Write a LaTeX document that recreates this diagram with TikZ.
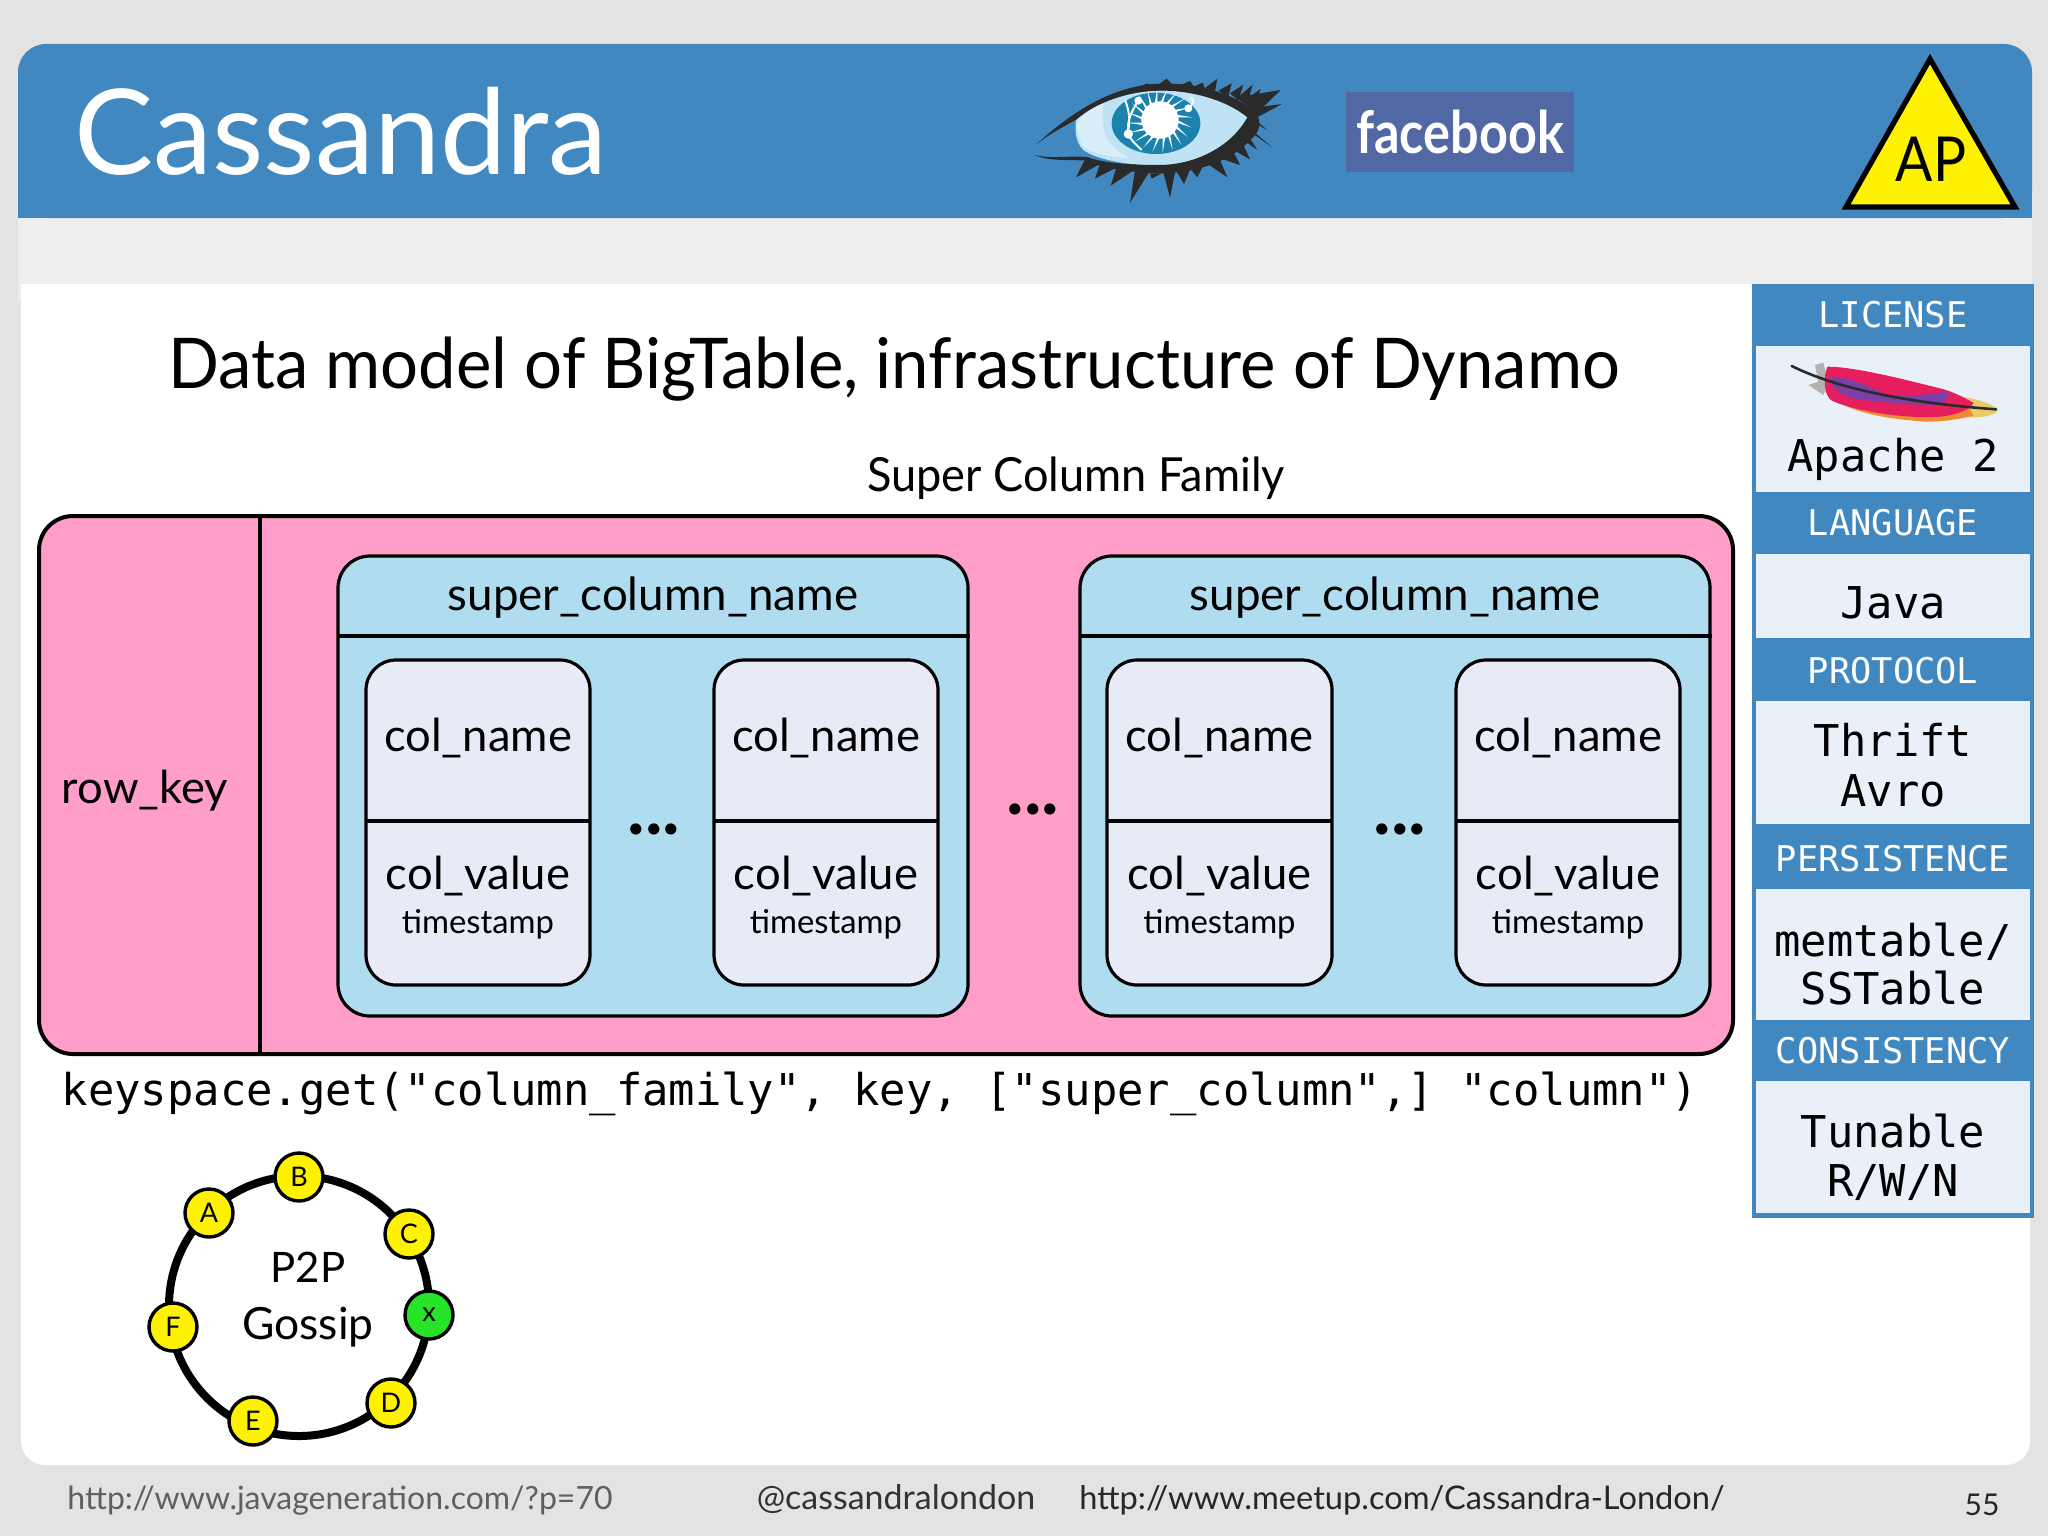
\documentclass[tikz,border=0pt]{standalone}
\usepackage{fontspec}
\usepackage{graphicx}
\setmainfont{Lato}
\setmonofont{DejaVu Sans Mono}
\newcommand{\fsz}[1]{\fontsize{#1}{#1}\selectfont}
\definecolor{hdrblue}{HTML}{4088BF}
\definecolor{bggray}{HTML}{E3E3E3}
\definecolor{band}{HTML}{EEEEEF}
\definecolor{sidefill}{HTML}{E9F0F8}
\definecolor{pinkfill}{HTML}{FF9EC8}
\definecolor{scfill}{HTML}{B0DCF0}
\definecolor{colfill}{HTML}{E8EAF6}
\definecolor{irisblue}{HTML}{1B82AD}
\definecolor{eyelight}{HTML}{BFE3F5}
\definecolor{eyepale}{HTML}{D8EFFA}
\definecolor{lash}{HTML}{2A2A2A}
\definecolor{fbblue}{HTML}{5268A5}
\definecolor{foot}{HTML}{5F5F5F}
\definecolor{nodegreen}{HTML}{28E428}
\definecolor{fred}{HTML}{E61E5E}
\definecolor{fpurple}{HTML}{7B3FA8}
\definecolor{forange}{HTML}{F08A30}
\definecolor{fyellow}{HTML}{E8CC66}
\tikzset{
  base/.style={anchor=base,inner sep=0pt,outer sep=0pt,align=center},
  sidehead/.style={base,text=white,font=\ttfamily\fsz{17.7}},
  sidetext/.style={base,text=black,font=\ttfamily\fsz{21.9}},
  colname/.style={base,font=\fsz{22.7}},
  smalltxt/.style={base,font=\fsz{16.4}},
  dotsnode/.style={base,font=\bfseries\fsz{37}},
  thick line/.style={line width=1.6pt,draw=black},
  ringnode/.style={circle,draw=black,line width=1.7pt,fill=yellow,minimum size=24pt,inner sep=0pt,font=\fsz{13.5}},
  footer/.style={base,text=foot}
}
\newcommand{\colcell}[3]{% name, x0, x1
  \draw[thick line,fill=colfill,rounded corners=15pt] (#2,660) rectangle (#3,985);
  \draw[thick line] (#2,821) -- (#3,821);
  \path (#2,0) -- (#3,0) coordinate[midway] (#1c);
  \node[colname] (#1n) at (#1c |- 0,751) {col\_name};
  \node[colname] (#1v) at (#1c |- 0,889) {col\_value};
  \node[smalltxt] (#1t) at (#1c |- 0,933) {timestamp};
}
\newcommand{\scbox}[3]{% name, x0, x1
  \draw[thick line,fill=scfill,rounded corners=16pt] (#2,556) rectangle (#3,1016);
  \draw[thick line] (#2,636) -- ([xshift=1pt]#3,636);
  \path (#2,0) -- (#3,0) coordinate[midway] (#1c);
  \node[base,font=\fsz{22.85}] (#1h) at (#1c |- 0,610) {super\_column\_name};
}
\begin{document}
\begin{tikzpicture}[x=0.5pt,y=-0.5pt]
\useasboundingbox (0,0) rectangle (2048,1536);
\fill[bggray] (0,0) rectangle (2048,1536);
% slide
\fill[band] (18,217) rectangle (2032,300);
\fill[white,rounded corners=12pt] (21,284) rectangle (2030,1465);
\fill[white] (21,284) rectangle (2030,400);
\fill[hdrblue,rounded corners=14pt] (18,218) -- (18,44) -- (2032,44) -- (2032,218) -- cycle;
\fill[hdrblue] (18,190) rectangle (2032,218);
% header
\node[base,text=white,font=\fsz{59.3}] (title) at (341,174) {Cassandra};
% eye (coordinates of a 3x crop at 1020,70)
\begin{scope}[shift={(1020,70)},x=0.16667pt,y=-0.16667pt]
\fill[eyelight] (168,150) .. controls (220,100) and (330,62) .. (420,62)
  .. controls (530,62) and (640,90) .. (690,140)
  .. controls (650,220) and (540,285) .. (420,287)
  .. controls (330,287) and (230,270) .. (190,240)
  .. controls (165,215) and (165,180) .. (168,150) -- cycle;
\fill[eyepale] (168,170) .. controls (170,140) and (220,110) .. (250,100)
  .. controls (240,190) and (260,230) .. (330,265)
  .. controls (260,260) and (200,245) .. (185,225) -- cycle;
\fill[irisblue] (408,160) ellipse (133 and 92);
\foreach \a in {0,18,...,342}{
  \fill[white] (420,150) -- ++(\a-9:52) -- ++(\a:46) -- ++(\a+9:-46) -- cycle;
}
\fill[white] (420,150) circle (56);
\draw[white!85!eyelight,line width=1pt] (315,90) .. controls (335,140) and (325,165) .. (325,192) .. controls (335,215) and (350,225) .. (365,240);
\draw[white!85!eyelight,line width=1pt] (355,92) .. controls (330,130) and (320,160) .. (325,192);
\draw[white!85!eyelight,line width=1pt] (505,115) .. controls (520,100) and (525,95) .. (512,82);
\fill[white] (355,92) circle (12) (325,192) circle (14) (505,115) circle (12);
% upper lid
\fill[lash] (50,222) .. controls (130,150) and (250,55) .. (400,42)
  .. controls (490,36) and (600,50) .. (700,118)
  .. controls (700,130) and (690,140) .. (682,142)
  .. controls (620,90) and (510,60) .. (420,62)
  .. controls (330,62) and (230,95) .. (170,148)
  .. controls (120,175) and (85,195) .. (50,222) -- cycle;
% lower lid
\fill[lash] (45,255) .. controls (90,268) and (160,255) .. (205,262)
  .. controls (250,280) and (340,285) .. (420,285)
  .. controls (540,283) and (640,220) .. (682,142)
  -- (700,118) .. controls (730,150) and (720,190) .. (690,210)
  .. controls (640,270) and (530,310) .. (420,310)
  .. controls (340,310) and (260,295) .. (200,272)
  .. controls (150,268) and (85,275) .. (45,255) -- cycle;
% lashes: base, base, tip
\foreach \ax/\ay/\bx/\by/\tx/\ty in {
  360/52/395/46/380/40, 415/44/455/42/440/26, 485/44/520/48/510/33, 525/48/555/56/548/38,
  555/54/585/64/592/26, 595/62/625/80/635/40, 630/70/655/92/670/44, 650/85/680/105/698/44,
  670/95/700/120/722/56, 660/80/715/125/782/60, 690/115/715/140/785/102,
  700/145/715/165/742/180, 690/175/705/195/758/234, 670/210/690/205/712/240,
  640/240/670/225/690/268, 600/265/640/245/660/285, 560/280/600/270/622/322,
  510/295/550/285/532/322, 470/305/510/298/492/342, 430/308/465/308/450/382,
  390/310/425/310/395/326, 345/302/385/310/330/398, 290/290/335/305/272/347,
  240/280/285/295/225/326, 195/268/240/282/168/322}{
  \fill[lash] (\ax,\ay) -- (\tx,\ty) -- (\bx,\by) -- cycle;
}
\end{scope}
% facebook
\node[fill=fbblue,minimum width=114pt,minimum height=40pt,inner sep=0pt,text=white,font=\bfseries\fsz{24}] (fb) at (1460,132) {\scalebox{1.05}[1.22]{facebook}};
% AP
\coordinate (apA) at (1930,59);
\coordinate (apB) at (1846,207);
\coordinate (apC) at (2015,207);
\draw[line width=2.6pt,fill=yellow,line join=miter] (apA) -- (apB) -- (apC) -- cycle;
\node[base,font=\fsz{31}] (ap) at (1931,181) {\scalebox{.89}[1]{AP}};
% sidebar
\fill[hdrblue] (1752,284) rectangle (2034,1218);
\foreach \a/\b in {346/492,554/638,701/824,889/1020,1081/1213}{
  \fill[sidefill] (1756,\a) rectangle (2030,\b);
}
\node[sidehead] (h1) at (1893,327) {LICENSE};
\node[sidetext] (t1) at (1893,471) {Apache 2};
\node[sidehead] (h2) at (1893,535) {LANGUAGE};
\node[sidetext] (t2) at (1893,618) {Java};
\node[sidehead] (h3) at (1893,683) {PROTOCOL};
\node[sidetext] (t3a) at (1893,756) {Thrift};
\node[sidetext] (t3b) at (1893,806) {Avro};
\node[sidehead] (h4) at (1893,871) {PERSISTENCE};
\node[sidetext] (t4a) at (1893,956) {memtable/};
\node[sidetext] (t4b) at (1893,1004) {SSTable};
\node[sidehead] (h5) at (1893,1063) {CONSISTENCY};
\node[sidetext] (t5a) at (1893,1147) {Tunable};
\node[sidetext] (t5b) at (1893,1196) {R/W/N};
% feather (coordinates of a 3x crop at 1740,270)
\begin{scope}[shift={(1740,270)},x=0.16667pt,y=-0.16667pt]
\fill[black!30] (205,345) -- (235,335) -- (225,285) -- (250,278) -- (265,340) -- (250,375) -- cycle;
\fill[fyellow] (650,378) .. controls (710,385) and (762,402) .. (775,422)
  .. controls (750,445) and (700,445) .. (650,438) -- cycle;
\fill[forange] (255,365) .. controls (300,415) and (400,445) .. (560,455) .. controls (610,455) and (660,447) .. (700,437) -- (680,400) -- (300,360) -- cycle;
\fill[fred] (262,290) .. controls (340,290) and (480,325) .. (600,355)
  .. controls (640,365) and (670,382) .. (700,398)
  .. controls (695,418) and (650,435) .. (600,440)
  .. controls (500,447) and (350,425) .. (275,392)
  .. controls (250,375) and (250,320) .. (262,290) -- cycle;
\fill[fpurple] (270,320) .. controls (320,320) and (380,345) .. (440,375)
  .. controls (500,380) and (560,375) .. (620,365)
  .. controls (630,380) and (620,395) .. (600,405)
  .. controls (520,405) and (400,395) .. (340,385)
  .. controls (300,375) and (270,350) .. (270,320) -- cycle;
\draw[line width=1.3pt,lash,line cap=round] (155,288) .. controls (300,360) and (520,400) .. (768,418);
\end{scope}
% heading
\node[base,font=\fsz{35}] (head) at (894,388) {\scalebox{.957}[1]{Data model of BigTable, infrastructure of Dynamo}};
\node[base,font=\fsz{23.5}] (scf) at (1076,491) {\scalebox{.96}[1]{Super Column Family}};
% main box
\draw[line width=2pt,fill=pinkfill,rounded corners=17pt] (39,516) rectangle (1733,1054);
\draw[thick line] (260,516) -- (260,1054);
\node[colname] (rk) at (145,803) {row\_key};
\scbox{sa}{338}{968}
\scbox{sb}{1080}{1710}
\colcell{ca}{366}{590}
\colcell{cb}{714}{938}
\colcell{cc}{1107}{1332}
\colcell{cd}{1456}{1680}
\node[dotsnode] (d1) at (654,834) {...};
\node[dotsnode] (d2) at (1033,814) {...};
\node[dotsnode] (d3) at (1400,834) {...};
\node[base,font=\ttfamily\fsz{21.92}] (api) at (880,1105) {keyspace.get("column\_family", key, ["super\_column",] "column")};
% ring
\coordinate (rc) at (299,1306);
\draw[line width=4pt] (rc) circle (130);
\node[ringnode] (nB) at (299,1177) {B};
\node[ringnode] (nA) at (209,1213) {A};
\node[ringnode] (nC) at (409,1234) {C};
\node[ringnode,fill=nodegreen] (nx) at (429,1315) {x};
\node[ringnode] (nD) at (391,1403) {D};
\node[ringnode] (nE) at (253,1421) {E};
\node[ringnode] (nF) at (173,1327) {F};
\node[base,font=\fsz{21}] (p2p) at (308,1282) {P2P};
\node[base,font=\fsz{22.2}] (gos) at (308,1339) {Gossip};
% footer
\node[footer,font=\fsz{16}] (f1) at (340,1509) {http://www.javageneration.com/?p=70};
\node[footer,text=black!80,font=\fsz{17}] (f2) at (896,1509) {@cassandralondon};
\node[footer,text=black!85,font=\fsz{16.3}] (f3) at (1402,1509) {http://www.meetup.com/Cassandra-London/};
\node[footer,text=black!85,font=\fsz{15}] (f4) at (1982,1515) {55};
\end{tikzpicture}
\end{document}
